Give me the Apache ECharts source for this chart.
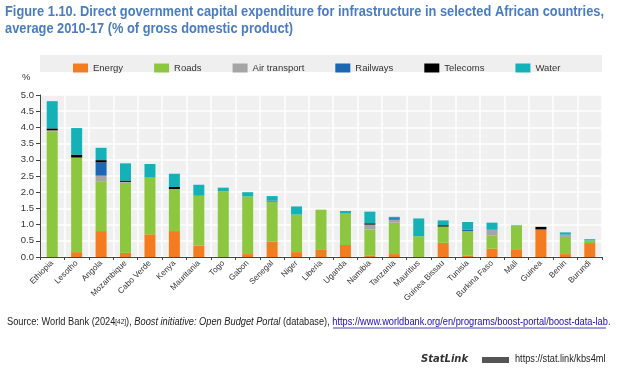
<!DOCTYPE html>
<html><head><meta charset="utf-8">
<script src="https://cdn.jsdelivr.net/npm/echarts@6/dist/echarts.min.js"></script>
<style>html,body{margin:0;padding:0;background:#fff}#c{width:628px;height:371px}</style>
</head><body><div id="c"></div>
<script>
var countries = ["Ethiopia","Lesotho","Angola","Mozambique","Cabo Verde","Kenya","Mauritania","Togo","Gabon","Senegal","Niger","Liberia","Uganda","Namibia","Tanzania","Mauritius","Guinea Bissau","Tunisia","Burkina Faso","Mali","Guinea","Benin","Burundi"];
var energy      = [0.00,0.15,0.80,0.13,0.70,0.80,0.35,0.00,0.09,0.47,0.15,0.22,0.37,0.05,0.09,0.00,0.44,0.04,0.26,0.24,0.85,0.09,0.43];
var roads       = [3.88,2.92,1.52,2.16,1.75,1.30,1.54,2.03,1.78,1.24,1.16,1.24,0.97,0.80,0.97,0.64,0.50,0.76,0.40,0.73,0.00,0.53,0.08];
var airTransport= [0.03,0.00,0.19,0.03,0.00,0.00,0.00,0.00,0.00,0.00,0.00,0.00,0.00,0.15,0.09,0.00,0.00,0.00,0.18,0.01,0.00,0.07,0.00];
var railways    = [0.00,0.00,0.41,0.00,0.00,0.00,0.00,0.00,0.00,0.03,0.00,0.00,0.00,0.00,0.05,0.00,0.00,0.05,0.00,0.00,0.00,0.00,0.00];
var telecoms    = [0.06,0.09,0.07,0.04,0.00,0.06,0.00,0.00,0.00,0.00,0.00,0.00,0.00,0.04,0.00,0.00,0.04,0.00,0.00,0.00,0.08,0.00,0.00];
var water       = [0.84,0.82,0.38,0.53,0.42,0.41,0.34,0.11,0.13,0.14,0.25,0.00,0.08,0.36,0.04,0.55,0.15,0.23,0.22,0.01,0.00,0.07,0.04];
var yTicks = [0,0.5,1,1.5,2,2.5,3,3.5,4,4.5,5];

var seriesDefs = [
  ["Energy", energy, "#f47c20"],
  ["Roads", roads, "#8dc63f"],
  ["Air transport", airTransport, "#a5a5a5"],
  ["Railways", railways, "#1b67b3"],
  ["Telecoms", telecoms, "#000000"],
  ["Water", water, "#14b1b6"]
];

var chart = echarts.init(document.getElementById('c'), null, {renderer:'canvas'});
var FONT = "'Liberation Sans',Arial,sans-serif";
var option = {
  animation: false,
  textStyle: {fontFamily: FONT},
  graphic: [
    {type:'text', x:5, y:3, scaleX:0.885, style:{text:"Figure 1.10. Direct government capital expenditure for infrastructure in selected African countries,\naverage 2010-17 (% of gross domestic product)", font:"bold 14.5px "+FONT, fill:"#4a7cc0", lineHeight:17}},
    {type:'rect', shape:{x:40,y:55,width:562,height:17}, style:{fill:'#efefef'}, z:-1},
    {type:'text', left:22, top:72, style:{text:'%', font:"9.5px "+FONT, fill:'#333'}},
    {type:'text', x:7, y:317, scaleX:0.925, style:{
      rich:{
        n:{font:"10px "+FONT, fill:'#222'},
        s:{font:"7px "+FONT, fill:'#222'},
        i:{font:"italic 10px "+FONT, fill:'#222'},
        l:{font:"10px "+FONT, fill:'#1a0dab'}
      },
      text:"{n|Source: World Bank (2024}{s|[42]}{n|), }{i|Boost initiative: Open Budget Portal}{n| (database), }{l|https://www.worldbank.org/en/programs/boost-portal/boost-data-lab}{n|.}"
    }},
    {type:'line', shape:{x1:333,y1:328,x2:606,y2:328}, style:{stroke:'#1a0dab', lineWidth:0.8}},
    {type:'text', left:421, top:354, style:{text:'StatLink', font:"italic bold 10px 'DejaVu Sans',sans-serif", fill:'#333'}},
    {type:'rect', shape:{x:482,y:357,width:27,height:6}, style:{fill:'#555'}},
    {type:'text', x:515, y:354, scaleX:0.92, style:{text:'https://stat.link/kbs4ml', font:"10px "+FONT, fill:'#222'}}
  ],
  legend: {
    left: 68, top: 58, itemWidth: 15, itemHeight: 9, itemGap: 31,
    icon: 'rect',
    textStyle: {fontSize: 9.5, color: '#333', fontFamily: FONT},
    data: seriesDefs.map(function(d){return d[0];})
  },
  grid: {left: 40, right: 26, top: 95, bottom: 114, show: true, backgroundColor: '#f0f0f0', borderWidth: 0},
  xAxis: {
    type: 'category', data: countries,
    axisLine: {lineStyle: {color: '#444', width: 1}},
    axisTick: {show: true, length: 3, lineStyle:{color:'#444'}},
    axisLabel: {rotate: 45, fontSize: 8.2, color: '#333', margin: 5, interval: 0, fontFamily: FONT},
    splitLine: {show: true, lineStyle: {color: '#ffffff', width: 1.5}}
  },
  yAxis: {
    type: 'value', min: 0, max: 5, interval: 0.5,
    axisLine: {show: true, lineStyle: {color: '#444'}},
    axisTick: {show: true, length: 4, inside: false, lineStyle:{color:'#444'}},
    axisLabel: {fontSize: 9.5, color: '#333', margin: 6, fontFamily: FONT,
      formatter: function(v){return v.toFixed(1);}},
    splitLine: {show: true, lineStyle: {color: '#ffffff', width: 1.5}}
  },
  series: seriesDefs.map(function(d){
    return {name: d[0], type: 'bar', stack: 'total', data: d[1], barWidth: 11,
      itemStyle: {color: d[2]}};
  })
};
chart.setOption(option);
</script></body></html>
